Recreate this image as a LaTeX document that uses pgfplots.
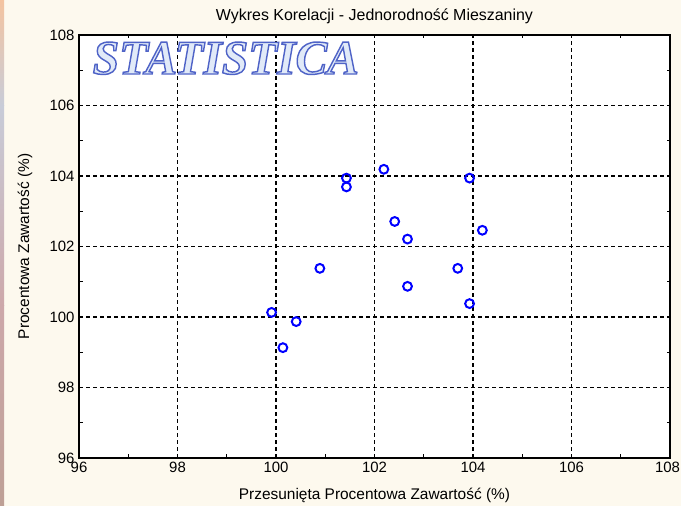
\documentclass[border=0pt]{standalone}
\usepackage{pgfplots}
\pgfplotsset{compat=1.18}
\usepackage{fontspec}
\setmainfont{Liberation Sans}
\newfontfamily\logofont{Liberation Serif}[BoldItalicFeatures={FakeBold=3}]
\definecolor{bgcream}{RGB}{253,249,238}
\definecolor{logofill}{RGB}{225,234,248}
\begin{document}
\begin{tikzpicture}[x=1bp,y=1bp]
\useasboundingbox (0,0) rectangle (681,506);
\fill[bgcream] (0,0) rectangle (681,506);
\shade[top color={rgb,255:red,244;green,196;blue,160}, bottom color={rgb,255:red,200;green,204;blue,216}] (0,400) rectangle (4,506);
\shade[top color={rgb,255:red,200;green,204;blue,216}, bottom color={rgb,255:red,205;green,168;blue,170}] (0,200) rectangle (4,400);
\shade[top color={rgb,255:red,205;green,168;blue,170}, bottom color={rgb,255:red,190;green,160;blue,150}] (0,0) rectangle (4,200);
\begin{axis}[
  at={(79bp,48bp)}, anchor=south west,
  width=591bp, height=423bp, scale only axis,
  xmin=96, xmax=108, ymin=96, ymax=108,
  xtick={96,98,...,108}, ytick={96,98,...,108},
  xticklabels={96,98,100,102,104,106,\hspace{-5bp}108},
  minor x tick num=1, minor y tick num=1,
  grid=major,
  major grid style={black, line width=1.5bp, dash pattern=on 4bp off 3bp},
  axis line style={black, line width=1.8bp},
  tick align=inside,
  major tick length=0pt, minor tick length=3.5bp,
  minor tick style={black, line width=1.3bp},
  axis background/.style={fill=white},
  /pgf/number format/assume math mode=true,
  ticklabel style={font=\fontsize{15}{17}\selectfont},
  xticklabel style={yshift=-1bp},
  yticklabel style={xshift=-1bp},
  title={Wykres Korelacji - Jednorodność Mieszaniny},
  title style={font=\fontsize{16}{18}\selectfont, at={(axis description cs:0.5,1)}, anchor=base, yshift=9bp},
  xlabel={Przesunięta Procentowa Zawartość (\%)},
  ylabel={Procentowa Zawartość (\%)},
  xlabel style={font=\fontsize{15.5}{17}\selectfont, at={(axis description cs:0.5,-0.0875)}, anchor=center},
  ylabel style={font=\fontsize{15.5}{17}\selectfont, at={(axis description cs:-0.0914,0.5)}, anchor=center},
  clip=false,
]
\addplot[only marks, mark=o, mark size=4.4bp, mark options={blue, line width=2bp}] coordinates {
  (101.43,103.94)
  (101.43,103.69)
  (102.19,104.19)
  (103.93,103.94)
  (102.41,102.71)
  (102.67,102.21)
  (104.19,102.46)
  (103.69,101.38)
  (102.67,100.87)
  (103.93,100.38)
  (100.89,101.38)
  (99.91,100.13)
  (100.41,99.87)
  (100.14,99.13)
};
\node[anchor=west, inner sep=0pt] at (axis description cs:0.023,0.945) {\resizebox{266bp}{32bp}{\fontsize{40}{44}\logofont\bfseries\itshape\color{logofill}\special{pdf:code 0.31 0.39 0.78 RG}STATISTICA}};
\end{axis}
\end{tikzpicture}
\end{document}
